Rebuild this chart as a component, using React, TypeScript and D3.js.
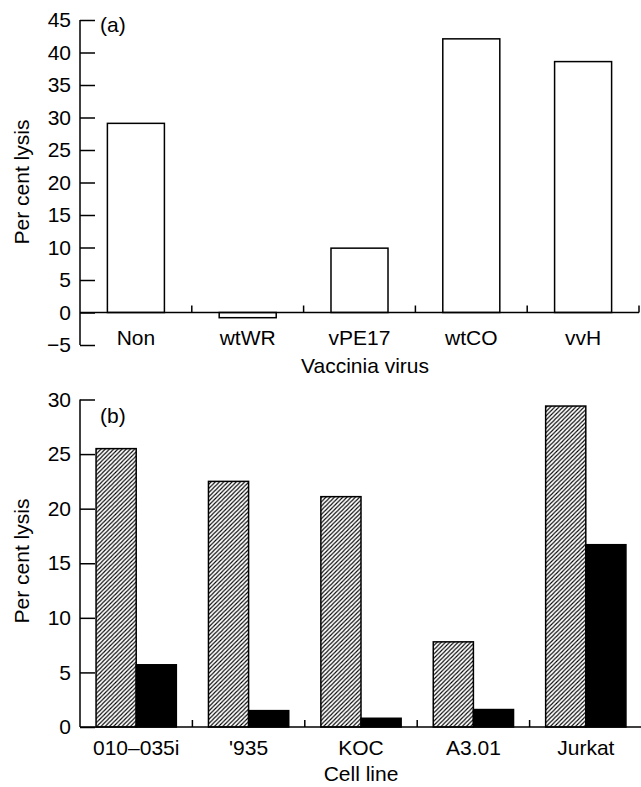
import React, { useEffect, useRef } from "react";
import * as d3 from "d3";

// panel (a)
const viruses = ["Non", "wtWR", "vPE17", "wtCO", "vvH"];
const virusLysis = [29.1, -0.8, 9.9, 42.1, 38.6];
const ticksA = [-5, 0, 5, 10, 15, 20, 25, 30, 35, 40, 45];

// panel (b)
const cellLines = ["010\u2013035i", "'935", "KOC", "A3.01", "Jurkat"];
const hatchedLysis = [25.5, 22.5, 21.1, 7.8, 29.4];
const solidLysis = [5.7, 1.5, 0.8, 1.6, 16.7];
const ticksB = [0, 5, 10, 15, 20, 25, 30];

const font = "'Liberation Sans', Arial, sans-serif";
const fs = 21;

export default function App() {
  const ref = useRef<SVGSVGElement>(null);

  useEffect(() => {
    const svg = d3.select(ref.current);
    svg.selectAll("*").remove();

    const defs = svg.append("defs");
    defs
      .append("pattern")
      .attr("id", "hatch")
      .attr("patternUnits", "userSpaceOnUse")
      .attr("width", 4.2)
      .attr("height", 4.2)
      .append("path")
      .attr("d", "M-1,1 L1,-1 M0,4.2 L4.2,0 M3.2,5.2 L5.2,3.2")
      .attr("stroke", "#000")
      .attr("stroke-width", 1.1);

    const drawYAxis = (g, scale, ticks) => {
      const axis = d3
        .axisLeft(scale)
        .tickValues(ticks)
        .tickSize(-15)
        .tickPadding(9)
        .tickFormat((d) => (d < 0 ? "\u2212" + Math.abs(d) : String(d)));
      const a = g.append("g").attr("transform", "translate(80,0)").call(axis);
      a.select(".domain").attr("stroke-width", 1.5).attr("d", `M0,${scale(ticks[0])}V${scale(ticks[ticks.length - 1])}`);
      a.selectAll(".tick line").attr("stroke-width", 1.5);
      a.selectAll(".tick text")
        .attr("font-family", font)
        .attr("font-size", fs)
        .attr("fill", "#000");
    };

    const yLabel = (g, cy) => {
      g.append("text")
        .attr("transform", `translate(29,${cy}) rotate(-90)`)
        .attr("text-anchor", "middle")
        .attr("font-family", font)
        .attr("font-size", fs)
        .text("Per cent lysis");
    };

    // ---------- panel (a)
    const gA = svg.append("g");
    const xA = d3
      .scaleBand()
      .domain(viruses)
      .range([80, 639])
      .paddingInner(0.49)
      .paddingOuter(0.245);
    const yA = d3.scaleLinear().domain([-5, 45]).range([345, 20]);

    gA.selectAll("rect")
      .data(viruses)
      .join("rect")
      .attr("x", (d) => xA(d))
      .attr("width", xA.bandwidth())
      .attr("y", (d, i) => Math.min(yA(virusLysis[i]), yA(0)))
      .attr("height", (d, i) => Math.abs(yA(virusLysis[i]) - yA(0)))
      .attr("fill", "#fff")
      .attr("stroke", "#000")
      .attr("stroke-width", 1.5);

    drawYAxis(gA, yA, ticksA);

    gA.append("line")
      .attr("x1", 80)
      .attr("x2", 639)
      .attr("y1", yA(0))
      .attr("y2", yA(0))
      .attr("stroke", "#000")
      .attr("stroke-width", 1.5);

    const stepA = xA.step();
    viruses.forEach((d, i) => {
      const xb = 80 + stepA * (i + 1);
      gA.append("line")
        .attr("x1", xb)
        .attr("x2", xb)
        .attr("y1", yA(0))
        .attr("y2", yA(0) - 7)
        .attr("stroke", "#000")
        .attr("stroke-width", 1.5);
      gA.append("text")
        .attr("x", xA(d) + xA.bandwidth() / 2)
        .attr("y", 345)
        .attr("text-anchor", "middle")
        .attr("font-family", font)
        .attr("font-size", fs)
        .text(d);
    });

    gA.append("text")
      .attr("x", 365)
      .attr("y", 373)
      .attr("text-anchor", "middle")
      .attr("font-family", font)
      .attr("font-size", fs)
      .text("Vaccinia virus");
    gA.append("text")
      .attr("x", 100)
      .attr("y", 32)
      .attr("font-family", font)
      .attr("font-size", fs)
      .text("(a)");
    yLabel(gA, 182);

    // ---------- panel (b)
    const gB = svg.append("g");
    const xB = d3.scaleBand().domain(cellLines).range([80, 642]);
    const xSub = d3
      .scaleBand()
      .domain(["hatched", "solid"])
      .range([0, xB.bandwidth()])
      .paddingOuter(0.4);
    const yB = d3.scaleLinear().domain([0, 30]).range([727, 399.5]);

    const series = [
      { key: "hatched", values: hatchedLysis, fill: "url(#hatch)" },
      { key: "solid", values: solidLysis, fill: "#000" },
    ];
    series.forEach((s) => {
      gB.append("g")
        .selectAll("rect")
        .data(cellLines)
        .join("rect")
        .attr("x", (d) => xB(d) + xSub(s.key))
        .attr("width", xSub.bandwidth())
        .attr("y", (d, i) => yB(s.values[i]))
        .attr("height", (d, i) => yB(0) - yB(s.values[i]))
        .attr("fill", s.fill)
        .attr("stroke", "#000")
        .attr("stroke-width", 1.5);
    });

    drawYAxis(gB, yB, ticksB);

    gB.append("line")
      .attr("x1", 80)
      .attr("x2", 642)
      .attr("y1", yB(0))
      .attr("y2", yB(0))
      .attr("stroke", "#000")
      .attr("stroke-width", 1.5);

    cellLines.forEach((d, i) => {
      if (i < cellLines.length - 1) {
        const xb = 80 + xB.step() * (i + 1);
        gB.append("line")
          .attr("x1", xb)
          .attr("x2", xb)
          .attr("y1", yB(0))
          .attr("y2", yB(0) - 7)
          .attr("stroke", "#000")
          .attr("stroke-width", 1.5);
      }
      gB.append("text")
        .attr("x", xB(d) + xB.bandwidth() / 2)
        .attr("y", 755)
        .attr("text-anchor", "middle")
        .attr("font-family", font)
        .attr("font-size", fs)
        .text(d);
    });

    gB.append("text")
      .attr("x", 361)
      .attr("y", 781)
      .attr("text-anchor", "middle")
      .attr("font-family", font)
      .attr("font-size", fs)
      .text("Cell line");
    gB.append("text")
      .attr("x", 100)
      .attr("y", 423)
      .attr("font-family", font)
      .attr("font-size", fs)
      .text("(b)");
    yLabel(gB, 561);
  }, []);

  return (
    <svg
      ref={ref}
      width={641}
      height={787}
      style={{ position: "absolute", left: 0, top: 0, background: "#fff" }}
    ></svg>
  );
}
